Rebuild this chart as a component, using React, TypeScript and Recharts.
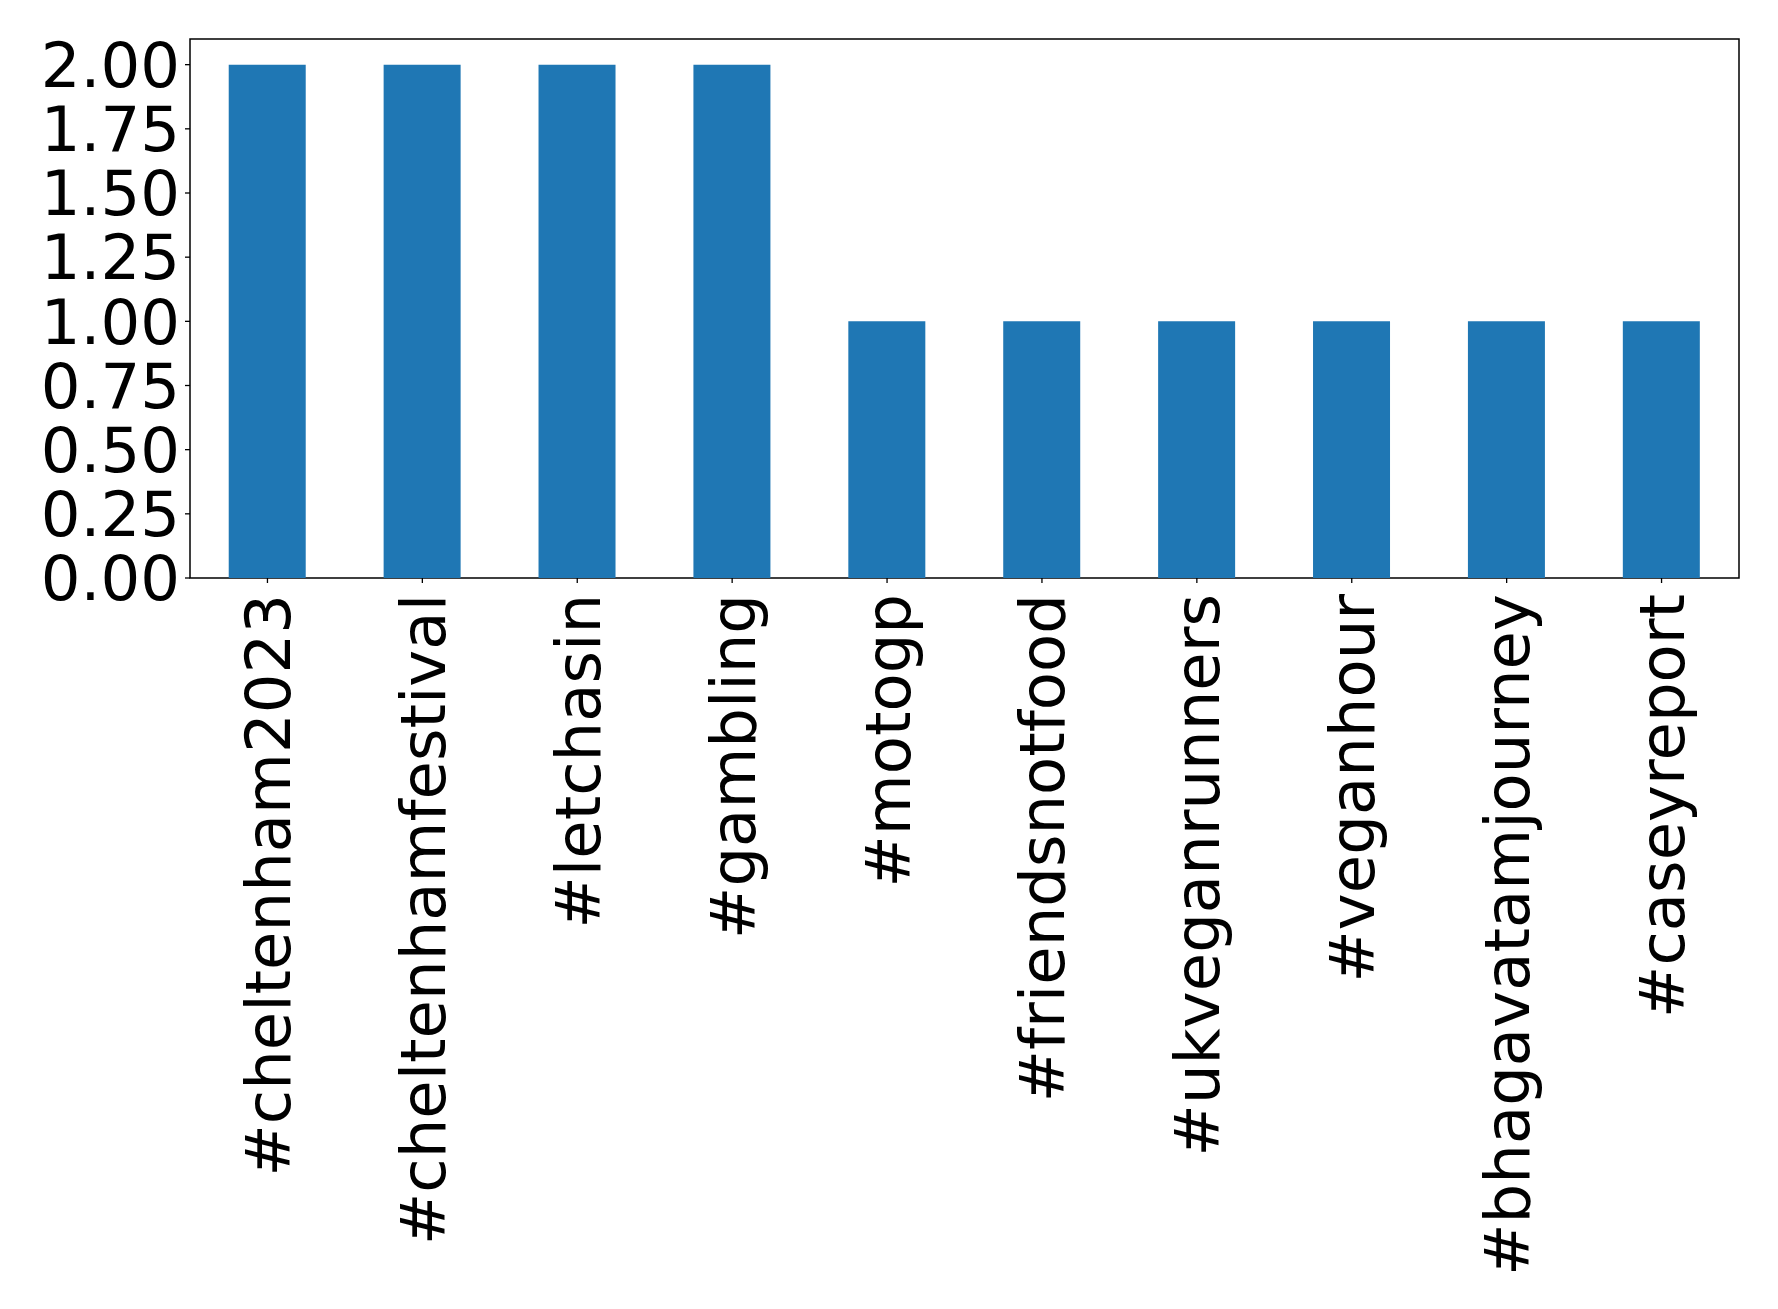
import { Bar, BarChart, ReferenceArea, XAxis, YAxis } from "recharts";

const hashtags = [
  "#cheltenham2023",
  "#cheltenhamfestival",
  "#letchasin",
  "#gambling",
  "#motogp",
  "#friendsnotfood",
  "#ukveganrunners",
  "#veganhour",
  "#bhagavatamjourney",
  "#caseyreport",
];
const counts = [2, 2, 2, 2, 1, 1, 1, 1, 1, 1];
const yTicks = [0, 0.25, 0.5, 0.75, 1, 1.25, 1.5, 1.75, 2];

const data = hashtags.map((tag, i) => ({ tag, count: counts[i] }));

const FONT = "'DejaVu Sans', sans-serif";
const FONT_SIZE = 62.5;

function RotatedTick({ x, y, payload }: any) {
  return (
    <g transform={`translate(${x},${y})`}>
      <text
        transform="rotate(-90)"
        x={0}
        y={0}
        dy="0.36em"
        textAnchor="end"
        fontFamily={FONT}
        fontSize={FONT_SIZE}
        fill="#000"
      >
        {payload.value}
      </text>
    </g>
  );
}

export default function App() {
  return (
    <div style={{ position: "absolute", left: 0, top: 0, width: 1778, height: 1309, background: "#fff" }}>
      <BarChart
        width={1778}
        height={1309}
        data={data}
        margin={{ top: 39, right: 39, left: 0, bottom: 0 }}
        barCategoryGap="25%"
      >
        <XAxis
          dataKey="tag"
          interval={0}
          height={731}
          tickSize={5}
          tickMargin={11}
          tickLine={{ stroke: "#000", strokeWidth: 1.3 }}
          axisLine={false}
          tick={<RotatedTick />}
        />
        <YAxis
          domain={[0, 2.1]}
          ticks={yTicks}
          interval={0}
          width={190}
          tickSize={5}
          tickMargin={5}
          tickLine={{ stroke: "#000", strokeWidth: 1.3 }}
          axisLine={false}
          tickFormatter={(v: number) => v.toFixed(2)}
          tick={{ fill: "#000", fontSize: FONT_SIZE, fontFamily: FONT }}
        />
        <Bar dataKey="count" fill="#1f77b4" isAnimationActive={false} />
        <ReferenceArea y1={0} y2={2.1} fill="none" stroke="#000" strokeWidth={1.5} ifOverflow="visible" />
      </BarChart>
    </div>
  );
}
